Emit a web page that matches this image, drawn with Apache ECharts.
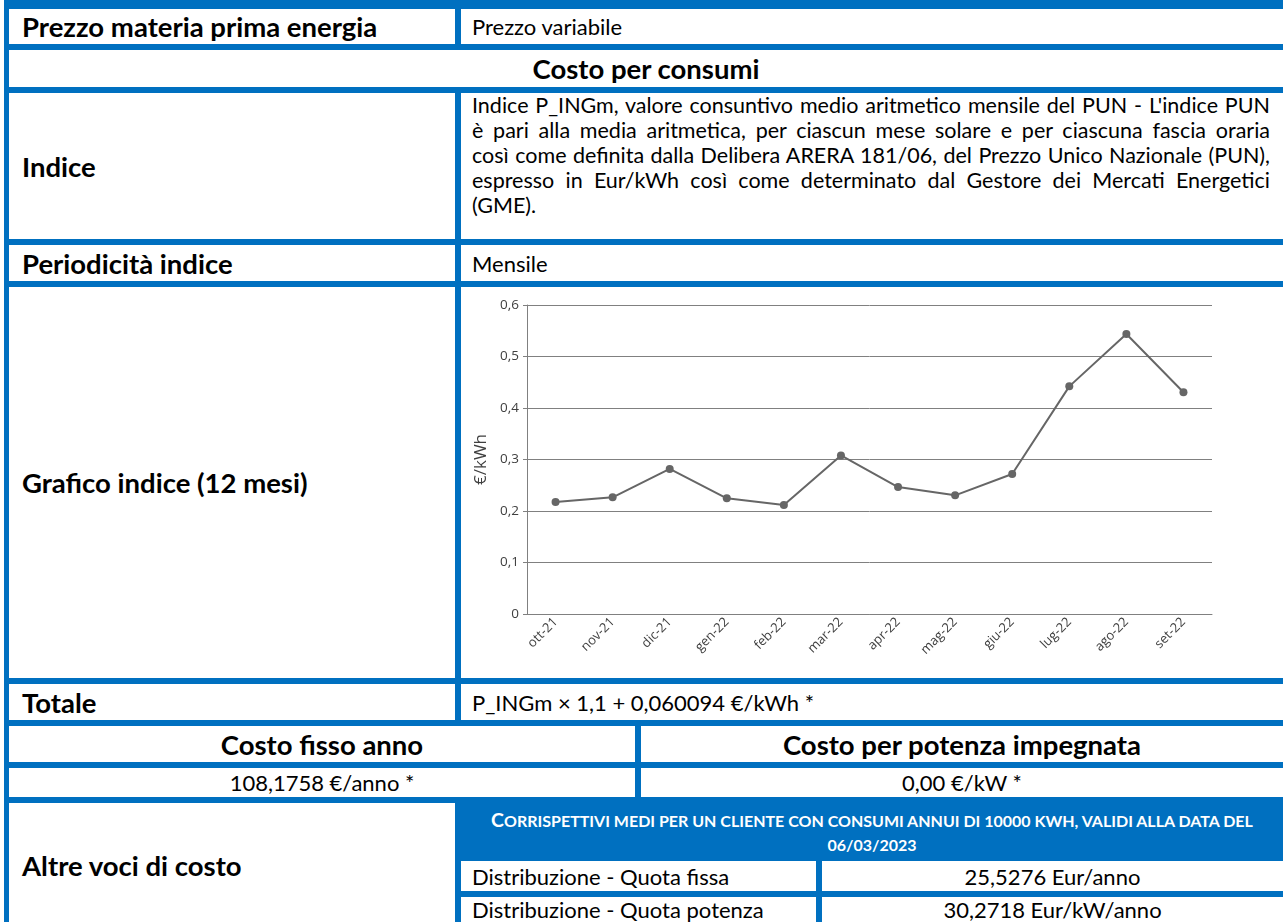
<!DOCTYPE html>
<html>
<head>
<meta charset="utf-8">
<script src="https://cdn.jsdelivr.net/npm/echarts@6/dist/echarts.min.js"></script>
<style>
  html, body { margin: 0; padding: 0; }
  body { width: 1283px; height: 922px; overflow: hidden; background: #fff; position: relative; font-family: Lato, sans-serif; color: #000; }
  .frame { position: absolute; left: 4px; top: 0; width: 1290px; height: 930px; background: #0070c0; }
  .cell { position: absolute; background: #fff; display: flex; align-items: center; box-sizing: border-box; }
  .lbl { font-weight: bold; font-size: 27.5px; padding-left: 13px; }
  .txt { font-size: 22px; padding-left: 11px; }
  .ctr { justify-content: center; padding-left: 0; }
  .para { font-size: 21.5px; line-height: 25px; padding: 0 13px 0 11px; align-items: flex-start; display: block; }
  .para div { text-align: justify; text-align-last: justify; white-space: nowrap; }
  .para div.last { text-align-last: left; }
  .low { align-items: flex-start; line-height: 22px; padding-top: 2px; }
  .hdr { position: absolute; left: 461px; top: 803px; width: 822px; height: 58px; color: #fff; font-weight: bold; text-transform: uppercase; font-size: 16px; line-height: 24px; text-align: center; padding-top: 5px; box-sizing: border-box; }
  .hdr .big { font-size: 19.5px; }
  #chart { position: absolute; left: 461px; top: 287px; width: 822px; height: 391px; }
</style>
</head>
<body>
<div class="frame"></div>

<div class="cell lbl" style="left:9px;top:9px;width:446px;height:35px">Prezzo materia prima energia</div>
<div class="cell txt" style="left:461px;top:9px;width:822px;height:35px">Prezzo variabile</div>

<div class="cell lbl ctr" style="left:9px;top:50px;width:1274px;height:37px">Costo per consumi</div>

<div class="cell lbl" style="left:9px;top:93px;width:446px;height:146px">Indice</div>
<div class="cell para" style="left:461px;top:93px;width:822px;height:146px">
  <div>Indice P_INGm, valore consuntivo medio aritmetico mensile del PUN - L'indice PUN</div>
  <div>è pari alla media aritmetica, per ciascun mese solare e per ciascuna fascia oraria</div>
  <div>così come definita dalla Delibera ARERA 181/06, del Prezzo Unico Nazionale (PUN),</div>
  <div>espresso in Eur/kWh così come determinato dal Gestore dei Mercati Energetici</div>
  <div class="last">(GME).</div>
</div>

<div class="cell lbl" style="left:9px;top:245px;width:446px;height:36px">Periodicità indice</div>
<div class="cell txt" style="left:461px;top:245px;width:822px;height:36px">Mensile</div>

<div class="cell lbl" style="left:9px;top:287px;width:446px;height:391px">Grafico indice (12 mesi)</div>
<div class="cell" style="left:461px;top:287px;width:822px;height:391px"></div>
<div id="chart"></div>

<div class="cell lbl" style="left:9px;top:684px;width:446px;height:36px">Totale</div>
<div class="cell txt" style="left:461px;top:684px;width:822px;height:36px">P_INGm × 1,1 + 0,060094 €/kWh *</div>

<div class="cell lbl ctr" style="left:9px;top:726px;width:626px;height:36px">Costo fisso anno</div>
<div class="cell lbl ctr" style="left:641px;top:726px;width:642px;height:36px">Costo per potenza impegnata</div>

<div class="cell txt ctr" style="left:9px;top:768px;width:626px;height:29px">108,1758 €/anno *</div>
<div class="cell txt ctr" style="left:641px;top:768px;width:642px;height:29px">0,00 €/kW *</div>

<div class="cell lbl" style="left:9px;top:803px;width:446px;height:124px">Altre voci di costo</div>
<div class="hdr"><span class="big">C</span>orrispettivi medi per un cliente con consumi annui di 10000 kWh, validi alla data del<br>06/03/2023</div>

<div class="cell txt" style="left:461px;top:861px;width:355px;height:30px">Distribuzione - Quota fissa</div>
<div class="cell txt ctr" style="left:822px;top:861px;width:461px;height:30px">25,5276 Eur/anno</div>
<div class="cell txt low" style="left:461px;top:897px;width:355px;height:30px">Distribuzione - Quota potenza</div>
<div class="cell txt ctr low" style="left:822px;top:897px;width:461px;height:30px">30,2718 Eur/kW/anno</div>

<script>
// mesi e valori indice (€/kWh)
const months = ['ott-21', 'nov-21', 'dic-21', 'gen-22', 'feb-22', 'mar-22', 'apr-22', 'mag-22', 'giu-22', 'lug-22', 'ago-22', 'set-22']
const indexValues = [0.2175, 0.2266, 0.2816, 0.2246, 0.2117, 0.308, 0.2466, 0.2304, 0.2718, 0.442, 0.5437, 0.4305]
const yTicks = [0, 0.1, 0.2, 0.3, 0.4, 0.5, 0.6]

const chart = echarts.init(document.getElementById('chart'))
chart.setOption({
  animation: false,
  textStyle: { fontFamily: 'Open Sans', color: '#4d4d4d' },
  grid: { left: 66, right: 71, top: 18, bottom: 64 },
  xAxis: {
    type: 'category',
    data: months,
    boundaryGap: true,
    axisLine: { lineStyle: { color: '#808080', width: 1 } },
    axisTick: { alignWithLabel: true, length: 5, lineStyle: { color: '#808080' } },
    axisLabel: { rotate: 45, fontSize: 13, color: '#404040', margin: 6 }
  },
  yAxis: {
    type: 'value',
    min: yTicks[0],
    max: yTicks[yTicks.length - 1],
    interval: 0.1,
    name: '€/kWh',
    nameLocation: 'middle',
    nameGap: 32,
    nameTextStyle: { fontSize: 17, color: '#404040', fontFamily: 'Open Sans' },
    axisLine: { show: true, lineStyle: { color: '#808080' } },
    axisTick: { show: true, length: 4, lineStyle: { color: '#808080' } },
    axisLabel: {
      fontSize: 13.5, color: '#404040', margin: 8,
      formatter: v => (Math.round(v * 10) / 10).toString().replace('.', ',')
    },
    splitLine: { show: true, lineStyle: { color: '#808080', width: 1 } }
  },
  series: [
    {
      type: 'line',
      data: indexValues,
      symbol: 'circle',
      symbolSize: 8,
      lineStyle: { color: '#666666', width: 2 },
      itemStyle: { color: '#666666' }
    }
  ]
})
</script>
</body>
</html>
